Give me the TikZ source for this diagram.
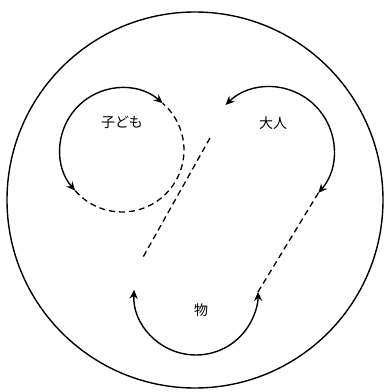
\documentclass[tikz,border=0pt]{standalone}
\usepackage{fontspec}
\newfontfamily\cjk{Noto Sans CJK JP}
\usetikzlibrary{arrows.meta}
\begin{document}
\begin{tikzpicture}[x=1pt,y=1pt,
  solidarc/.style={line width=1.4pt, {Stealth[length=9pt,width=8pt,inset=3pt]}-{Stealth[length=9pt,width=8pt,inset=3pt]}},
  dashline/.style={line width=1.3pt, dash pattern=on 6pt off 4pt},
  lbl/.style={font=\cjk\fontsize{14}{16}\selectfont, inner sep=0pt}]
\useasboundingbox (0,0) rectangle (386,392);
% outer circle
\coordinate (O) at (195,192);
\draw[line width=1.4pt] (O) circle[radius=188];
% centres
\coordinate (Ck) at (122,242);
\coordinate (Ca) at (270,241);
\coordinate (Cm) at (196,99);
% labels
\node[lbl] (kodomo) at (122,270) {子ども};
\node[lbl] (otona) at (273,269) {大人};
\node[lbl] (mono) at (201,82) {物};
% child circle
\draw[solidarc] ([shift={(49:62)}]Ck) arc[start angle=49, end angle=221, radius=62];
\draw[dashline] ([shift={(221:62)}]Ck) arc[start angle=221, end angle=409, radius=62];
% adult arc
\draw[solidarc] ([shift={(134:64)}]Ca) arc[start angle=134, end angle=-41, radius=64];
\coordinate (aEnd) at ([shift={(-41:64)}]Ca);
% thing arc
\draw[solidarc] ([shift={(177:62)}]Cm) arc[start angle=177, end angle=361, radius=62];
\coordinate (mEnd) at ([shift={(1:62)}]Cm);
% dashed links
\draw[dashline] (aEnd) -- (mEnd);
\coordinate (d1) at (210,254);
\coordinate (d2) at (142,133);
\draw[dashline] (d1) -- (d2);
\end{tikzpicture}
\end{document}
